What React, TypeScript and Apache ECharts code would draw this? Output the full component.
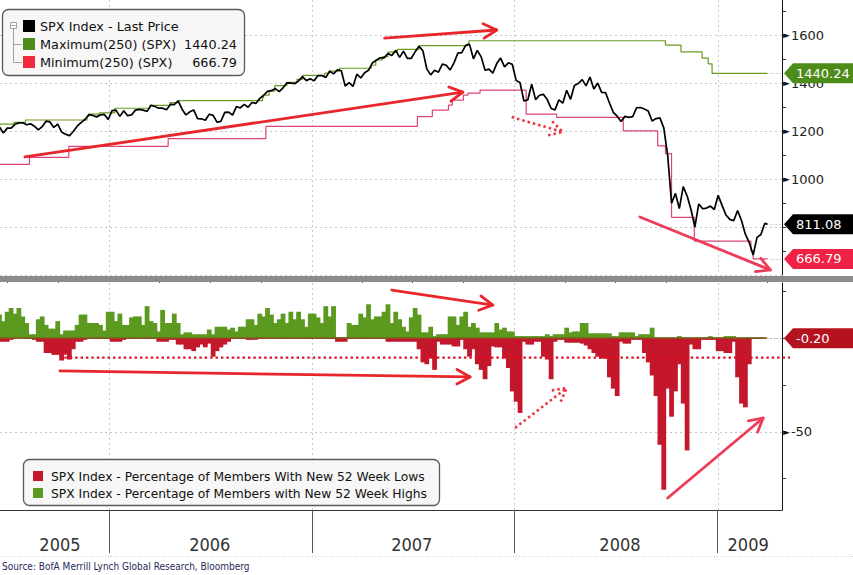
import React, { useEffect, useRef } from 'react';
import * as echarts from 'echarts';

// ---------- data ----------
// weekly (Friday) closes of SPX starting Fri 17 Jun 2005
const firstWeek = [2005, 5, 17];
const spxWeeklyClose = [
  // 2005
  1217, 1192, 1212, 1212, 1228, 1234, 1234, 1226, 1230, 1220, 1205, 1218, 1241, 1238, 1215, 1229, 1196, 1187, 1180, 1198, 1220, 1235, 1248, 1268, 1265, 1259, 1267, 1269, 1248,
  // 2006
  1285, 1287, 1261, 1284, 1264, 1267, 1287, 1290, 1287, 1282, 1307, 1302, 1295, 1295, 1289, 1311, 1310, 1326, 1291, 1267, 1280, 1288, 1252, 1251, 1245, 1270, 1265, 1237, 1240, 1278, 1279, 1266, 1302, 1296, 1311, 1299, 1319, 1315, 1336, 1349, 1365, 1368, 1377, 1364, 1380, 1401, 1400, 1397, 1409, 1427, 1410, 1418,
  // 2007
  1409, 1431, 1431, 1423, 1449, 1438, 1455, 1451, 1387, 1402, 1386, 1437, 1421, 1443, 1453, 1484, 1495, 1505, 1505, 1523, 1515, 1536, 1507, 1533, 1503, 1503, 1530, 1553, 1534, 1459, 1434, 1453, 1445, 1479, 1474, 1454, 1484, 1525, 1527, 1557, 1561, 1501, 1536, 1509, 1453, 1458, 1441, 1481, 1504, 1467, 1484, 1478,
  // 2008
  1411, 1401, 1325, 1330, 1395, 1331, 1349, 1353, 1331, 1294, 1288, 1330, 1316, 1370, 1332, 1390, 1398, 1414, 1388, 1425, 1375, 1400, 1361, 1360, 1318, 1278, 1262, 1240, 1261, 1257, 1260, 1297, 1298, 1292, 1283, 1242, 1252, 1255, 1213, 1099, 899, 940, 877, 968, 930, 873, 800, 896, 876, 879, 887, 873,
  // 2009
  932, 890, 850, 832, 826, 869, 827, 770, 735, 683, 757, 769, 816,
];
const lastPriceDate = '2009-04-01';
const lastPrice = 811.08;

const max250Dates = ['2005-06-17', '2005-07-13', '2005-08-03', '2005-11-22', '2005-11-25', '2005-12-14', '2006-01-11', '2006-03-15', '2006-04-20', '2006-05-05', '2006-10-04', '2006-10-06', '2006-10-16', '2006-10-26', '2006-11-17', '2006-12-05', '2006-12-15', '2007-01-24', '2007-02-01', '2007-02-20', '2007-04-18', '2007-04-26', '2007-05-08', '2007-05-18', '2007-06-04', '2007-07-13', '2007-10-09', '2007-10-11', '2008-09-29', '2008-10-27', '2008-12-04', '2008-12-15', '2008-12-22', '2009-04-01'];
const max250Values = [1229.1, 1236, 1245.9, 1261, 1270.6, 1275.8, 1294.9, 1307, 1318.2, 1326.7, 1340, 1350, 1366, 1389, 1403, 1415, 1431.8, 1440.9, 1449.3, 1461.6, 1474, 1496, 1510, 1529, 1540.6, 1555.9, 1565, 1576.1, 1558, 1530, 1504, 1480, 1440.24, 1440.24];

const min250Dates = ['2005-06-17', '2005-08-10', '2005-10-20', '2006-04-17', '2006-10-10', '2007-07-10', '2007-08-06', '2007-09-04', '2007-09-11', '2007-10-01', '2007-10-09', '2007-10-31', '2008-01-22', '2008-03-17', '2008-07-15', '2008-09-15', '2008-09-29', '2008-10-10', '2008-11-20', '2009-03-02', '2009-03-06', '2009-04-01'];
const min250Values = [1060.7, 1090.2, 1136.2, 1168.2, 1219.3, 1260, 1287, 1308, 1329, 1350, 1358, 1370.6, 1270, 1257, 1200.4, 1138, 1106, 839.8, 741, 700, 666.79, 666.79];

// weekly % of members with new 52-week highs / lows (same weeks as prices)
const pctNewHighs = [
  12.5, 9, 14, 16, 13, 16, 11.5, 8, 2, 2, 10, 11.5, 7, 5, 5, 9, 2, 4, 4, 4,
  7, 12.5, 12.5, 8, 8, 8, 7, 4, 14, 14, 9, 13, 7, 7, 11, 11.5, 11.5, 7, 17, 9,
  8, 3.5, 15, 8, 8, 13, 8, 2, 3, 3, 2, 2, 2, 2, 4.5, 2, 6, 6, 6, 4.5,
  5.5, 3.5, 6, 6, 10, 10, 7, 13, 11.5, 16, 12.5, 8, 10, 13, 8, 14, 10, 14, 10, 6,
  13, 13, 11, 8, 17, 11.5, 17, 0.5, 0.5, 0.5, 8, 7, 7, 13, 11, 18, 10, 11.5, 11.5, 14,
  18, 8, 14, 10, 6, 3.5, 11, 16, 12.5, 3, 3, 6, 1, 2, 2, 2, 11.5, 11.5, 7, 11.5,
  14, 6, 8, 5.5, 3, 3, 3, 3, 8, 4.5, 5.5, 3.5, 3.5, 1, 1, 1, 1, 1, 1, 1,
  1, 2, 1, 2, 2, 2, 5.5, 3, 3.5, 3.5, 8, 8, 2.5, 2.5, 2.5, 2.5, 2.5, 2.5, 1, 1,
  3, 3, 3, 3, 1, 2, 2, 2, 5.5, 0.3, 0.3, 0.3, 0.3, 0.3, 0.3, 1, 0.3, 0.3, 0.3, 0.3,
  0.3, 0.3, 0.3, 1, 0.3, 0.3, 0.3, 1, 1, 1, 0.3, 0.3, 0.3, 0.3, 0.3, 0.3, 0.3, 0.2,
];
const pctNewLows = [
  -2, -2, -2, -1, -0.5, -0.3, -0.3, -0.5, -0.5, -1, -2, -2, -8, -8, -9, -9, -12, -9, -11.5, -6,
  -2, -2, -1, -0.5, -0.5, -0.5, -0.5, -0.5, -0.5, -2, -2, -2, -1, -0.5, -0.5, -0.5, -0.5, -0.5, -0.5, -0.5,
  -0.5, -2, -2, -2, -1, -1, -3.5, -3.5, -6, -6, -7, -5, -3.5, -5, -3, -10, -7, -5, -3.5, -2,
  -0.5, -0.5, -0.5, -0.5, -1, -1, -1, -0.5, -0.5, -0.5, -0.5, -0.5, -0.5, -0.5, -0.5, -0.5, -0.5, -0.5, -0.5, -0.5,
  -0.5, -0.5, -0.5, -0.5, -0.5, -0.5, -0.5, -2, -2, -2, -0.5, -0.5, -0.5, -0.5, -0.5, -0.5, -0.5, -0.5, -0.5, -0.5,
  -2, -2, -2, -2, -2, -2, -2, -2, -6, -13, -14, -11, -17, -2, -3.5, -3.5, -3.5, -4.5, -4.5, -1,
  -6, -10, -6, -14, -17, -22, -15, -4.5, -5, -5, -11, -16, -28.5, -34, -40, -2, -3.5, -3.5, -2, -2,
  -10, -11.5, -22, -2, -1, -1, -2.5, -2.5, -2.5, -2.5, -3, -4, -6, -8, -10, -11, -11, -21, -27, -31,
  -2, -3, -3, -1, -1, -1, -8, -13, -20, -31, -57, -81, -27, -42, -28.5, -14, -35, -60, -3.5, -6,
  -6, -1, -1, -1, -1, -7, -7, -8, -8, -2, -21, -35, -37, -14, -0.5, -0.5, -0.5, -0.2,
];

// axes
const axisStart = '2005-06-18';
const axisEnd = '2009-04-27';
const yearBoundaries = ['2006-01-01', '2007-01-01', '2008-01-01', '2009-01-01'];
const quarterStarts = ['2005-07-01', '2005-10-01', '2006-04-01', '2006-07-01', '2006-10-01', '2007-04-01', '2007-07-01', '2007-10-01', '2008-04-01', '2008-07-01', '2008-10-01', '2009-04-01'];
const yearLabelDates = ['2005-10-04', '2006-07-01', '2007-06-30', '2008-07-09', '2009-02-25'];
const priceMin = 600;
const priceMax = 1746;
const priceMinorTicks = [700, 800, 900, 1000, 1100, 1200, 1300, 1400, 1500, 1600, 1700];
const priceLabelValues = [1000, 1200, 1400, 1600];
const priceGridValues = [600, 800, 1000, 1200, 1400, 1600];
const breadthMin = -91.8;
const breadthMax = 29.35;
const breadthTicks = [25, 0, -25, -50, -75];
const breadthLabelValues = [-50];
const breadthGridValues = [0, -50];
const lowsThreshold = -10.5;
const lowsThresholdFrom = '2005-10-12';

// hand-drawn annotation arrows, in data coordinates
const arrows = [
  { grid: 0, from: ['2007-05-12', 1587], to: ['2007-11-30', 1621], dotted: false, color: '#e8262b' },
  { grid: 0, from: ['2005-08-02', 1092], to: ['2007-09-30', 1362], dotted: false, color: '#e8262b' },
  { grid: 0, from: ['2007-12-27', 1258], to: ['2008-03-28', 1196], dotted: true, color: '#ee3344' },
  { grid: 0, from: ['2008-08-14', 842], to: ['2009-04-06', 621], dotted: false, color: '#ee3b57' },
  { grid: 1, from: ['2007-05-25', 25.6], to: ['2007-11-23', 17.6], dotted: false, color: '#e8262b' },
  { grid: 1, from: ['2005-10-04', -17.6], to: ['2007-10-13', -20.8], dotted: false, color: '#e8262b' },
  { grid: 1, from: ['2008-01-02', -48], to: ['2008-04-04', -26.7], dotted: true, color: '#ee3344' },
  { grid: 1, from: ['2008-10-03', -85.4], to: ['2009-03-24', -42.7], dotted: false, color: '#ee3b57' },
];

// ---------- helpers ----------
const ts = (s: string) => {
  const [y, m, d] = s.split('-').map(Number);
  return new Date(y, m - 1, d).getTime();
};
const weekTs = (i: number) => new Date(firstWeek[0], firstWeek[1], firstWeek[2] + 7 * i).getTime();

const FONT = '"DejaVu Sans", Verdana, sans-serif';
const NARROW = '"Liberation Sans Narrow", "DejaVu Sans Condensed", "Arial Narrow", sans-serif';
const GRID0 = { left: 0, right: 71, top: 0, height: 275 };
const GRID1 = { left: 0, right: 71, top: 283, height: 227 };
const PLOT_RIGHT = 853 - 71;

const C = {
  price: '#000000',
  max: '#6a9a22',
  min: '#d9457a',
  highs: '#5b9a1f',
  lows: '#c4172c',
  tagGreen: '#4e8c1a',
  tagRed: '#ee2244',
  tagDark: '#b5121f',
};

function buildOption(): any {
  const priceData = spxWeeklyClose.map((v, i) => [weekTs(i), v]);
  priceData.push([ts(lastPriceDate), lastPrice]);
  const maxData = max250Dates.map((d, i) => [ts(d), max250Values[i]]);
  const minData = min250Dates.map((d, i) => [ts(d), min250Values[i]]);
  const highsData = pctNewHighs.map((v, i) => [weekTs(i), v]);
  const lowsData = pctNewLows.map((v, i) => [weekTs(i), v]);
  const xMin = ts(axisStart);
  const xMax = ts(axisEnd);
  const rich = {
    t: { fontSize: 9, color: '#111', fontFamily: FONT, padding: [0, 1, 0, 0] },
    v: { fontSize: 13, color: '#222', fontFamily: FONT },
  };
  return {
    animation: false,
    backgroundColor: '#ffffff',
    grid: [GRID0, GRID1],
    xAxis: [
      { gridIndex: 0, type: 'value', min: xMin, max: xMax, show: false, splitLine: { show: false } },
      {
        gridIndex: 1, type: 'value', min: xMin, max: xMax,
        axisLine: { show: true, onZero: false, lineStyle: { color: '#333', width: 1 } },
        axisTick: { show: true, customValues: yearBoundaries.map(ts), length: 43, lineStyle: { color: '#555', width: 1 } },
        axisLabel: {
          show: true, customValues: yearLabelDates.map(ts), margin: 25,
          formatter: (v: number) => String(new Date(v).getFullYear()),
          fontFamily: NARROW, fontSize: 18, color: '#333',
        },
        splitLine: { show: false },
      },
      {
        gridIndex: 1, type: 'value', min: xMin, max: xMax,
        axisLine: { show: false, onZero: false },
        axisTick: { show: true, customValues: quarterStarts.map(ts), length: 6, lineStyle: { color: '#555', width: 1 } },
        axisLabel: { show: false },
        splitLine: { show: false },
      },
    ],
    yAxis: [
      {
        gridIndex: 0, type: 'value', position: 'right', min: priceMin, max: priceMax,
        axisLine: { show: true, lineStyle: { color: '#111', width: 1 } },
        axisTick: { show: true, customValues: priceMinorTicks, length: 4, lineStyle: { color: '#333' } },
        axisLabel: { show: true, customValues: priceLabelValues, margin: 1, formatter: (v: number) => `{t|►}{v|${v}}`, rich },
        splitLine: { show: false },
      },
      {
        gridIndex: 1, type: 'value', position: 'right', min: breadthMin, max: breadthMax,
        axisLine: { show: true, lineStyle: { color: '#111', width: 1 } },
        axisTick: { show: true, customValues: breadthTicks, length: 4, lineStyle: { color: '#333' } },
        axisLabel: { show: true, customValues: breadthLabelValues, margin: 1, formatter: (v: number) => `{t|►}{v|${v}}`, rich },
        splitLine: { show: false },
      },
    ],
    series: [
      {
        name: 'Maximum(250) (SPX)', type: 'line', xAxisIndex: 0, yAxisIndex: 0, data: maxData, step: 'end',
        showSymbol: false, z: 3, lineStyle: { color: C.max, width: 1.2 },
      },
      {
        name: 'Minimum(250) (SPX)', type: 'line', xAxisIndex: 0, yAxisIndex: 0, data: minData, step: 'end',
        showSymbol: false, z: 3, lineStyle: { color: C.min, width: 1.2 },
      },
      {
        name: 'SPX Index - Last Price', type: 'line', xAxisIndex: 0, yAxisIndex: 0, data: priceData,
        showSymbol: false, z: 4, lineStyle: { color: C.price, width: 1.7 },
      },
      {
        name: 'New 52 Week Highs', type: 'bar', xAxisIndex: 1, yAxisIndex: 1, data: highsData,
        barWidth: 4.8, barGap: '-100%', itemStyle: { color: C.highs }, z: 3,
      },
      {
        name: 'New 52 Week Lows', type: 'bar', xAxisIndex: 1, yAxisIndex: 1, data: lowsData,
        barWidth: 4.8, barGap: '-100%', itemStyle: { color: C.lows }, z: 3,
      },
    ],
  };
}

function buildGraphics(chart: any): any[] {
  const g: any[] = [];
  const P = (grid: number, t: number, v: number) => chart.convertToPixel({ gridIndex: grid }, [t, v]) as number[];
  const x0 = ts(axisStart);
  const g0Top = GRID0.top, g0Bot = GRID0.top + GRID0.height;
  const g1Top = GRID1.top, g1Bot = GRID1.top + GRID1.height;
  const crisp = (v: number) => Math.round(v) + 0.5;
  const dotted = { stroke: '#c4c4c4', lineWidth: 1, lineDash: [2, 3] };

  // grid lines
  priceGridValues.forEach((v) => {
    const y = crisp(P(0, x0, v)[1]);
    g.push({ type: 'line', z: 1, silent: true, shape: { x1: 0, y1: y, x2: PLOT_RIGHT, y2: y }, style: dotted });
  });
  breadthGridValues.forEach((v) => {
    const y = crisp(P(1, x0, v)[1]);
    g.push({ type: 'line', z: 1, silent: true, shape: { x1: 0, y1: y, x2: PLOT_RIGHT, y2: y }, style: dotted });
  });
  yearBoundaries.forEach((d) => {
    const x = crisp(P(0, ts(d), priceMin)[0]);
    g.push({ type: 'line', z: 1, silent: true, shape: { x1: x, y1: g0Top, x2: x, y2: g0Bot }, style: { ...dotted, stroke: '#c4c8d2' } });
    g.push({ type: 'line', z: 1, silent: true, shape: { x1: x, y1: g1Top, x2: x, y2: g1Bot }, style: { ...dotted, stroke: '#c4c8d2' } });
  });

  // zero baseline of breadth panel
  const y0 = P(1, x0, 0)[1];
  const lastX = P(1, weekTs(pctNewLows.length - 1), 0)[0];
  g.push({ type: 'line', z: 5, silent: true, shape: { x1: 0, y1: y0, x2: lastX + 2, y2: y0 }, style: { stroke: '#7a5f1c', lineWidth: 1.6 } });

  // threshold dotted line
  const yt = P(1, x0, lowsThreshold)[1];
  const xt = P(1, ts(lowsThresholdFrom), lowsThreshold)[0];
  g.push({ type: 'line', z: 20, silent: true, shape: { x1: xt, y1: yt, x2: PLOT_RIGHT + 8, y2: yt }, style: { stroke: '#e0101e', lineWidth: 2.4, lineDash: [2.4, 3] } });

  // separator bar between panels
  g.push({ type: 'rect', z: 30, silent: true, shape: { x: 0, y: 276, width: 853, height: 6 }, style: { fill: '#8c8c8c' } });

  // bottom of x-axis area
  g.push({ type: 'line', z: 1, silent: true, shape: { x1: 0, y1: 556.5, x2: 853, y2: 556.5 }, style: { stroke: '#d0d0d0', lineWidth: 1, lineDash: [1, 2] } });

  // arrows
  arrows.forEach((a) => {
    const p0 = P(a.grid, ts(a.from[0] as string), a.from[1] as number);
    const p1 = P(a.grid, ts(a.to[0] as string), a.to[1] as number);
    const ang = Math.atan2(p1[1] - p0[1], p1[0] - p0[0]);
    const L = 15, spread = 0.5;
    const w1 = [p1[0] - L * Math.cos(ang - spread), p1[1] - L * Math.sin(ang - spread)];
    const w2 = [p1[0] - L * Math.cos(ang + spread), p1[1] - L * Math.sin(ang + spread)];
    const style: any = { stroke: a.color, lineWidth: a.dotted ? 2.6 : 2.8, fill: 'none', lineCap: a.dotted ? 'butt' : 'round', lineJoin: 'round' };
    if (a.dotted) style.lineDash = [2.5, 3];
    g.push({ type: 'line', z: 60, silent: true, shape: { x1: p0[0], y1: p0[1], x2: p1[0], y2: p1[1] }, style });
    g.push({ type: 'polyline', z: 60, silent: true, shape: { points: [w1, p1, w2] }, style: { ...style } });
  });

  // value tags on the right axis, with dotted leaders from the last point
  const tag = (y: number, xLast: number, text: string, fill: string) => {
    const h = 10;
    const xa = PLOT_RIGHT + 2;
    g.push({ type: 'line', z: 1, silent: true, shape: { x1: xLast + 3, y1: crisp(y), x2: PLOT_RIGHT, y2: crisp(y) }, style: { stroke: '#aaaaaa', lineWidth: 1, lineDash: [1, 2] } });
    g.push({
      type: 'polygon', z: 100, silent: true,
      shape: { points: [[xa, y], [xa + 9, y - h], [860, y - h], [860, y + h], [xa + 9, y + h]] },
      style: { fill },
    });
    g.push({ type: 'text', z: 101, silent: true, x: xa + 12, y, style: { text, fill: '#ffffff', font: `13px ${FONT}`, verticalAlign: 'middle', align: 'left' } });
  };
  const maxLast = max250Values[max250Values.length - 1];
  const minLast = min250Values[min250Values.length - 1];
  const lowsLast = pctNewLows[pctNewLows.length - 1];
  const xEnd = P(0, ts(lastPriceDate), lastPrice)[0];
  tag(P(0, x0, maxLast)[1], xEnd, maxLast.toFixed(2), C.tagGreen);
  tag(P(0, x0, lastPrice)[1], xEnd, lastPrice.toFixed(2), '#000000');
  tag(P(0, x0, minLast)[1], xEnd, minLast.toFixed(2), C.tagRed);
  tag(P(1, x0, lowsLast)[1], lastX, lowsLast.toFixed(2), C.tagDark);

  // top-left legend
  const lf = `12.8px ${FONT}`;
  g.push({ type: 'rect', z: 100, silent: true, shape: { x: 2.5, y: 9.5, width: 242, height: 66, r: 6 }, style: { fill: '#f7f7f7', stroke: '#5a5a5a', lineWidth: 1.3 } });
  g.push({ type: 'rect', z: 101, silent: true, shape: { x: 10.5, y: 22.5, width: 6, height: 6 }, style: { fill: '#ffffff', stroke: '#a0a0a0', lineWidth: 1 } });
  g.push({ type: 'line', z: 101, silent: true, shape: { x1: 11.5, y1: 25.5, x2: 15.5, y2: 25.5 }, style: { stroke: '#a0a0a0', lineWidth: 1 } });
  g.push({ type: 'polyline', z: 101, silent: true, shape: { points: [[13.5, 29], [13.5, 62.5], [22, 62.5]] }, style: { stroke: '#a0a0a0', lineWidth: 1, fill: 'none' } });
  g.push({ type: 'line', z: 101, silent: true, shape: { x1: 13.5, y1: 44.5, x2: 22, y2: 44.5 }, style: { stroke: '#a0a0a0', lineWidth: 1 } });
  const sq = [['#000000', 20], [C.tagGreen, 38], ['#ee2a3c', 56]] as [string, number][];
  sq.forEach(([c, y]) => g.push({ type: 'rect', z: 101, silent: true, shape: { x: 23, y, width: 12, height: 12 }, style: { fill: c } }));
  const legTxt: [string, number][] = [['SPX Index - Last Price', 26], ['Maximum(250) (SPX)', 44], ['Minimum(250) (SPX)', 62]];
  legTxt.forEach(([t, y]) => g.push({ type: 'text', z: 101, silent: true, x: 40, y, style: { text: t, fill: '#111', font: lf, verticalAlign: 'middle' } }));
  g.push({ type: 'text', z: 101, silent: true, x: 237, y: 44, style: { text: maxLast.toFixed(2), fill: '#111', font: lf, align: 'right', verticalAlign: 'middle' } });
  g.push({ type: 'text', z: 101, silent: true, x: 237, y: 62, style: { text: minLast.toFixed(2), fill: '#111', font: lf, align: 'right', verticalAlign: 'middle' } });

  // bottom legend
  const bf = `12.3px ${FONT}`;
  g.push({ type: 'rect', z: 100, silent: true, shape: { x: 23.5, y: 459.5, width: 416, height: 46, r: 6 }, style: { fill: '#f7f7f7', stroke: '#5a5a5a', lineWidth: 1.3 } });
  g.push({ type: 'rect', z: 101, silent: true, shape: { x: 33, y: 471, width: 10, height: 10 }, style: { fill: C.lows } });
  g.push({ type: 'rect', z: 101, silent: true, shape: { x: 33, y: 488, width: 10, height: 10 }, style: { fill: C.highs } });
  g.push({ type: 'text', z: 101, silent: true, x: 51, y: 477, style: { text: 'SPX Index - Percentage of Members With New 52 Week Lows', fill: '#111', font: bf, verticalAlign: 'middle' } });
  g.push({ type: 'text', z: 101, silent: true, x: 51, y: 494, style: { text: 'SPX Index - Percentage of Members with New 52 Week Highs', fill: '#111', font: bf, verticalAlign: 'middle' } });

  // source
  g.push({ type: 'text', z: 101, silent: true, x: 2, y: 566, style: { text: 'Source: BofA Merrill Lynch Global Research, Bloomberg', fill: '#1f2a5c', font: `10px ${NARROW}`, verticalAlign: 'middle' } });

  return g;
}

export default function App() {
  const ref = useRef<HTMLDivElement>(null);
  useEffect(() => {
    document.body.style.margin = '0';
    const chart = echarts.init(ref.current as HTMLDivElement, null, { renderer: 'svg' });
    chart.setOption(buildOption());
    chart.setOption({ graphic: { elements: buildGraphics(chart) } });
    return () => chart.dispose();
  }, []);
  return <div ref={ref} style={{ width: 853, height: 575 }} />;
}
